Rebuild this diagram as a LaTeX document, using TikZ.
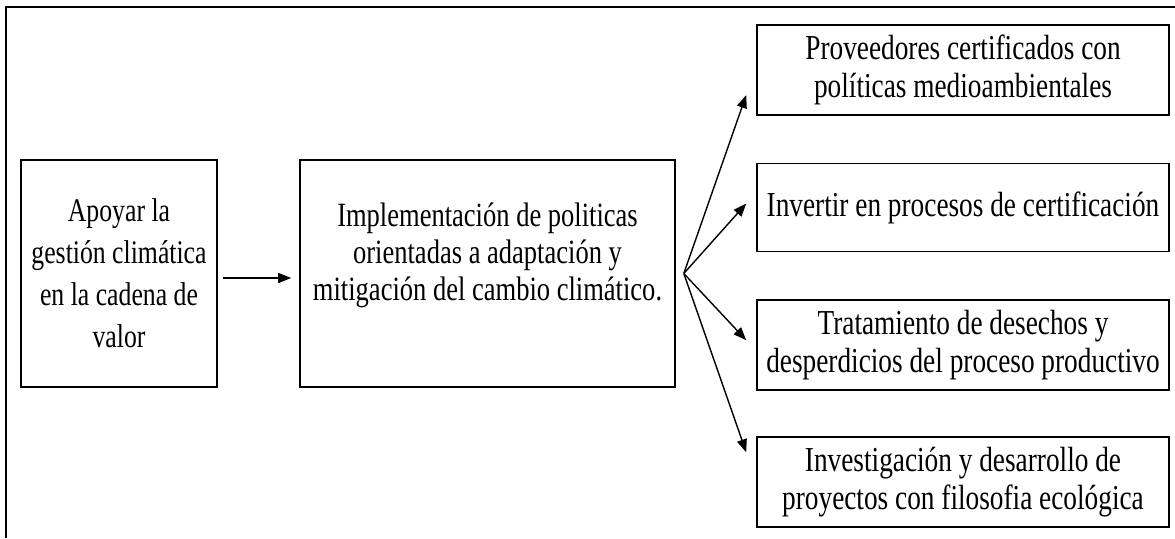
\documentclass[tikz,border=0pt]{standalone}
\usepackage{fontspec}
\setmainfont[FakeStretch=0.78]{Liberation Serif}
\usepackage{tikz}
\usetikzlibrary{positioning,arrows.meta,calc}
\tikzset{
  caja/.style  ={rectangle, draw=black, line width=1.6pt, align=center, inner sep=2pt,
                 font=\fontsize{35}{38}\selectfont},
  cajai/.style ={caja, minimum width=196pt, minimum height=227pt,
                 font=\fontsize{33}{42}\selectfont},
  cajac/.style ={caja, minimum width=375pt, minimum height=227pt,
                 font=\fontsize{34}{37}\selectfont},
  cajad/.style ={caja, minimum width=412pt, minimum height=90pt},
  flecha/.style={-{Triangle[length=13pt,width=10pt]}, line width=1.4pt},
  marco/.style ={line width=1.2pt},
}

\begin{document}
\begin{tikzpicture}[x=1pt,y=-1pt]
  \useasboundingbox (0,0) rectangle (1175,538);
  % marco exterior (solo arriba e izquierda)
  \draw[marco] (6,538) -- (6,7) -- (1175,7);

  \node[cajai] (apoyo) at (119,273.5) {Apoyar la\\gestión climática\\en la cadena de\\valor};
  \node[cajac] (impl)  at (487.5,273.5) {Implementación de politicas\\orientadas a adaptación y\\mitigación del cambio climático.\\[6pt]};

  \node[cajad] (prov) at (963,70) {Proveedores certificados con\\políticas medioambientales};
  \node[cajad, minimum height=88pt, below=47pt of prov] (inv) {Invertir en procesos de certificación};
  \node[cajad, below=47pt of inv]  (trat) {Tratamiento de desechos y\\desperdicios del proceso productivo};
  \node[cajad, below=45pt of trat] (idesa) {Investigación y desarrollo de\\proyectos con filosofia ecológica};

  \coordinate (abanico) at ($(impl.east)+(8,0)$);

  \draw[flecha] ([xshift=5pt,yshift=-4.5pt]apoyo.east) -- ([xshift=-8pt,yshift=-4.5pt]impl.west);
  \draw[flecha] (abanico) -- ([xshift=-10pt,yshift=-25pt]prov.west);
  \draw[flecha] (abanico) -- ([xshift=-10pt,yshift=4pt]inv.west);
  \draw[flecha] (abanico) -- ([xshift=-10pt,yshift=5pt]trat.west);
  \draw[flecha] (abanico) -- ([xshift=-10pt,yshift=29.5pt]idesa.west);
\end{tikzpicture}
\end{document}
